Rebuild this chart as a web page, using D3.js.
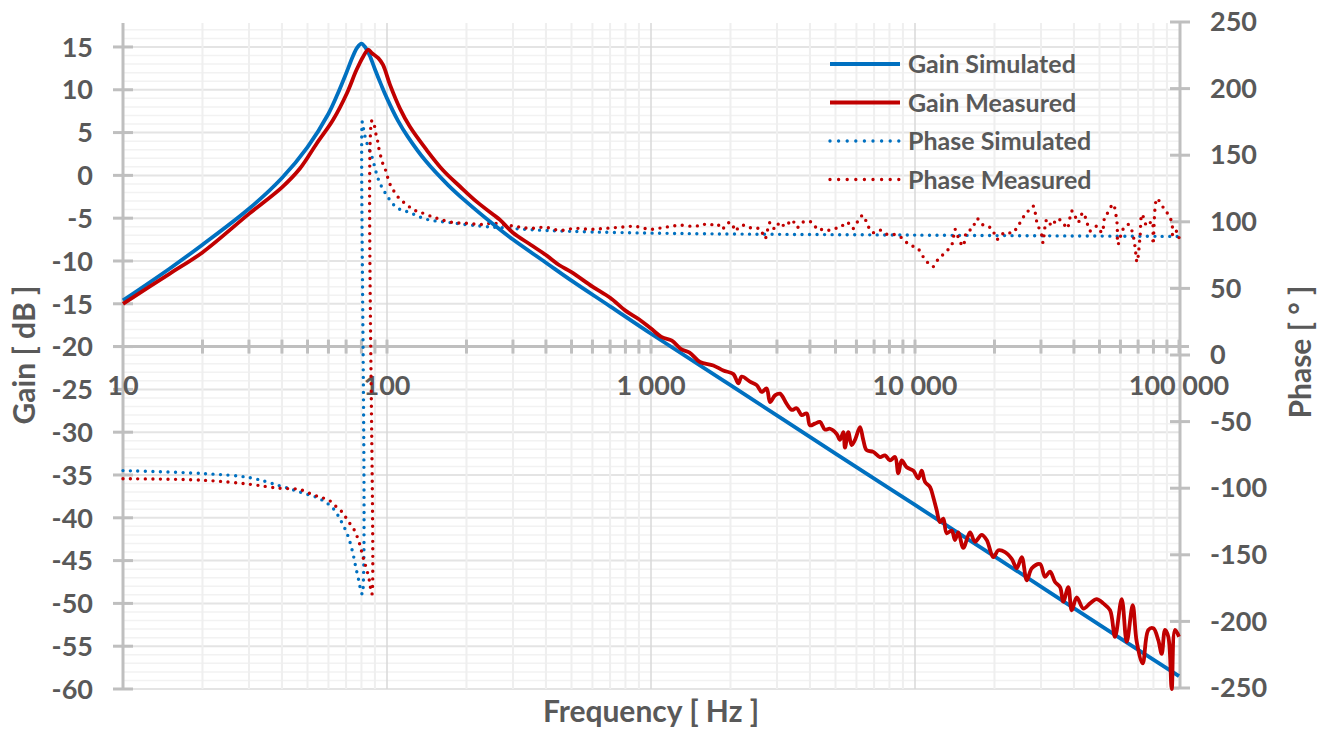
<!DOCTYPE html>
<html>
<head>
<meta charset="utf-8">
<script src="https://cdn.jsdelivr.net/npm/d3@7"></script>
<style>
  body { margin: 0; background: #fff; }
  text { font-family: Lato, "Noto Sans", sans-serif; font-weight: bold; fill: #595959; }
</style>
</head>
<body>
<div id="chart-container"></div>
<script>
// ---- data ----
const simGainFreq = [10, 15, 20, 30, 40, 50, 60, 65, 70, 74, 77, 80, 83, 86, 90, 95, 100, 110, 120, 140, 170, 200, 250, 300, 400, 500, 700, 1000, 2000, 5000, 10000, 20000, 50000, 100000];
const simGain = [-14.6, -10.9, -8.1, -3.9, -0.3, 3.3, 7.2, 9.5, 11.9, 13.8, 14.9, 15.4, 14.9, 14.0, 12.4, 10.6, 9.0, 6.4, 4.5, 1.7, -1.1, -3.1, -5.6, -7.5, -10.2, -12.3, -15.3, -18.5, -24.5, -32.5, -38.5, -44.5, -52.5, -58.5];

const measGainFreq = [10, 15, 20, 30, 40, 46.8, 54.1, 62.5, 70.5, 76.6, 81.3, 85, 87.5, 92.7, 96.6, 102.6, 112, 122, 141, 163, 189, 219, 253, 268, 300, 350, 400, 450, 500, 600, 700, 800, 900, 1000, 1100, 1200, 1300, 1400,
  1533, 1722, 1879, 2050, 2141, 2206, 2371, 2514, 2626, 2742, 2824, 2950, 3081, 3266, 3412, 3564, 3722, 3889, 4000, 4178, 4365, 4561, 4764, 5051, 5198, 5351, 5430, 5588, 5754, 5926, 6191, 6368, 6561, 6950, 7366, 7697, 8040, 8400, 8644, 8903, 9303, 9854,
  10292, 10602, 10912, 11398, 11729, 12078, 12434, 12798, 13182, 13772, 14172, 14587, 15241, 16160, 16878, 17886, 18688, 19804, 20687, 21928, 23248, 24289, 25376, 26512, 27699, 29750, 31080, 32470, 33920, 35440, 36450, 38080, 39230, 40980, 43420, 46020, 48760, 51690, 54790, 57240, 60680, 63390, 66770, 69170, 72870, 76520, 79930, 83480, 86000, 88490, 91100, 93830, 96600, 100000];
const measGain = [-15.0, -11.5, -9.0, -4.5, -1.4, 0.8, 3.7, 6.5, 9.6, 12.3, 13.9, 14.7, 14.3, 13.7, 12.9, 10.6, 7.8, 5.7, 3.0, 0.6, -1.3, -3.1, -4.6, -5.2, -6.7, -8.1, -9.3, -10.5, -11.3, -13.0, -14.3, -15.8, -16.8, -17.9, -18.9, -19.3, -20.3, -20.7,
  -21.8, -22.2, -22.8, -23.2, -24.3, -23.5, -24.1, -24.5, -25.3, -24.9, -26.5, -25.7, -25.5, -26.7, -27.4, -27.2, -28.0, -27.8, -29.2, -29.0, -28.8, -29.7, -29.6, -30.2, -30.9, -30.0, -31.8, -30.0, -31.5, -30.9, -29.4, -30.9, -32.1, -32.3, -32.9, -32.7, -33.3, -32.9, -34.8, -33.3, -34.1, -34.5,
  -35.4, -34.5, -35.8, -36.4, -37.6, -39.1, -40.5, -40.1, -41.8, -41.5, -42.6, -41.7, -43.5, -41.7, -42.8, -42.0, -42.6, -44.6, -43.8, -44.0, -44.8, -45.9, -44.6, -47.3, -45.9, -45.4, -46.9, -46.3, -47.5, -48.1, -49.8, -48.1, -50.8, -49.3, -50.6, -50.0, -49.5, -50.0, -50.8, -53.9, -49.5, -54.5, -50.2, -54.5, -57.0, -53.1, -52.9, -54.3, -55.9, -53.1, -53.9, -60.0, -53.1, -53.9];

const simPhaseFreq = [10, 20, 30, 39, 47, 55.7, 62.4, 67.4, 71.2, 74.1, 76.3, 78.5, 79.7, 80.6, 80.6, 81.3, 82.5, 85, 87.5, 92.7, 98.2, 108.8, 122, 141, 173, 225, 268, 400, 1000, 10000, 100000];
const simPhase = [-86.8, -89, -92, -98, -103, -108, -115, -125.7, -136, -148, -160, -171, -177.6, -179.5, 175, 171, 164.5, 155.8, 149.5, 132, 122, 110.7, 106.9, 101.9, 99.4, 96.8, 95.6, 93.5, 91.5, 90, 89];

const measPhaseFreq = [10, 20, 30, 39, 46.8, 52.6, 56.6, 60.3, 63.5, 66.8, 69.3, 72, 75, 77.2, 79, 80.4, 81.7, 83.2, 85, 86.2, 87, 87.7, 87.7, 89.3, 90.8, 91.9, 93, 96.3, 99.1, 102, 107, 112, 118.7, 125.8, 133, 145.5, 158.8, 178, 200, 225, 253,
  305, 348, 397, 452, 515, 587, 670, 763, 869, 991, 1130, 1288, 1468,
  1574, 1673, 1778, 1858, 1941, 2027, 2080, 2173, 2270, 2371, 2477, 2588, 2703, 2824, 2950, 3081, 3219, 3420, 3573, 3733, 3932, 4108, 4291, 4483, 4683, 4892, 5198, 5523, 5820, 6080, 6352, 6636, 6932, 7366, 7827, 8254, 8770, 9162, 9571,
  10176, 10912, 11702, 12225, 12991, 13804, 14172, 14550, 15200, 15738, 16442, 17176, 17943, 18903, 19748, 20447, 21359, 22313, 23311, 24553, 25650, 26561, 27988, 28980, 30270, 30530, 31623, 33037, 34514, 36360, 37650, 39330, 40370, 41420, 43290, 44820, 46020, 48890, 51070, 52450, 53830, 56230, 58220, 58730, 61360, 64100, 66370, 68080, 69360, 71140, 72440, 75680, 79060, 79720, 82540, 86220, 88490, 90830, 94090, 94860, 98200, 100000];
const measPhase = [-92.9, -94, -97, -100, -101, -105, -107, -109, -113, -116.7, -121, -126, -131, -136.7, -142.7, -148.7, -154, -159, -165.8, -171.8, -177.6, -179.5, 176, 173.3, 165.8, 162, 155.8, 144, 138, 129.5, 122, 117, 113, 109, 107.4, 104.4, 101.9, 99.4, 98.9, 98, 98.9,
  96.6, 95.1, 95.9, 93.6, 95.1, 94.4, 95.1, 95.9, 96.6, 94.4, 95.9, 97.4, 96.6,
  98.1, 97.6, 98.6, 94.4, 98.9, 98.9, 93.1, 96.8, 97.4, 95.6, 94.9, 94.9, 87.4, 99.4, 94.4, 99.8, 96.4, 101.4, 95.6, 99.4, 100.6, 98.9, 93.8, 94.4, 93.6, 94.9, 95.6, 99.8, 94.9, 100.6, 104.9, 96.8, 91.9, 93.8, 90.6, 90.6, 88.9, 85.6, 82.3,
  80.6, 71.8, 66.3, 71.8, 76.8, 83.1, 94.4, 88.9, 81.8, 93.1, 94.4, 102.4, 98.1, 96.8, 93.1, 86.8, 90.6, 92.3, 91.4, 96.8, 103.2, 106.9, 111.9, 99.4, 89.3, 84.4, 101.9, 96.8, 102.4, 99.4, 94.9, 108.1, 104.4, 99.4, 106.9, 99.4, 93.1, 96.8, 91.9, 104.4, 106.9, 113.2, 99.4, 83.1, 94.4, 98.1, 93.1, 81.8, 69.8, 88.1, 105.6, 96.8, 100.6, 83.1, 117.4, 111.9, 109.4, 105.6, 99.4, 89.3, 93.1, 88.1];

const gainTicks = d3.range(-60, 16, 5);
const phaseTicks = d3.range(-250, 251, 50);
const freqLabels = [[10, "10"], [100, "100"], [1000, "1 000"], [10000, "10 000"], [100000, "100 000"]];

const legendItems = [
  { name: "Gain Simulated", color: "#0070C0", dotted: false },
  { name: "Gain Measured", color: "#C00000", dotted: false },
  { name: "Phase Simulated", color: "#0070C0", dotted: true },
  { name: "Phase Measured", color: "#C00000", dotted: true }
];

// ---- chart ----
const svgWidth = 1319;
const svgHeight = 729;
const pLeft = 123, pRight = 1179, pTop = 23, pBottom = 689;

const svg = d3.select("#chart-container")
  .append("svg")
  .attr("width", svgWidth)
  .attr("height", svgHeight);

const x = d3.scaleLog().domain([10, 100000]).range([pLeft, pRight]);
const yGain = d3.scaleLinear().domain([-60, 17.8]).range([pBottom, pTop]);
const yPhase = d3.scaleLinear().domain([-250, 250]).range([688, 22]);

// minor / major frequency positions
const decades = [10, 100, 1000, 10000];
const minorFreq = [];
decades.forEach(d => { for (let k = 2; k <= 9; k++) minorFreq.push(d * k); });

const grid = svg.append("g");

// horizontal grid (1 dB minor, 5 dB major)
grid.selectAll(".hmin")
  .data(d3.range(-59, 18, 1).filter(v => v % 5 !== 0))
  .join("line")
  .attr("x1", pLeft).attr("x2", pRight)
  .attr("y1", d => yGain(d)).attr("y2", d => yGain(d))
  .attr("stroke", "#f2f2f2").attr("stroke-width", 1.5);

grid.selectAll(".hmaj")
  .data(gainTicks)
  .join("line")
  .attr("x1", pLeft).attr("x2", pRight)
  .attr("y1", d => yGain(d)).attr("y2", d => yGain(d))
  .attr("stroke", "#e4e4e4").attr("stroke-width", 2);

// vertical grid
grid.selectAll(".vmin")
  .data(minorFreq)
  .join("line")
  .attr("x1", d => x(d)).attr("x2", d => x(d))
  .attr("y1", pTop).attr("y2", pBottom)
  .attr("stroke", "#efefef").attr("stroke-width", 2);

grid.selectAll(".vmaj")
  .data([100, 1000, 10000])
  .join("line")
  .attr("x1", d => x(d)).attr("x2", d => x(d))
  .attr("y1", pTop).attr("y2", pBottom)
  .attr("stroke", "#d9d9d9").attr("stroke-width", 1.5);

// axes lines (Excel style thick grey)
const axisColor = "#bfbfbf";
const axes = svg.append("g").attr("stroke", axisColor).attr("stroke-width", 3);

axes.append("line").attr("x1", pLeft).attr("x2", pLeft).attr("y1", pTop).attr("y2", pBottom);
axes.selectAll(".lt").data(gainTicks).join("line")
  .attr("x1", pLeft - 10).attr("x2", pLeft + 10)
  .attr("y1", d => yGain(d)).attr("y2", d => yGain(d));

axes.append("line").attr("x1", pRight + 1).attr("x2", pRight + 1).attr("y1", pTop).attr("y2", pBottom);
axes.selectAll(".rt").data(phaseTicks).join("line")
  .attr("x1", pRight - 9).attr("x2", pRight + 11)
  .attr("y1", d => yPhase(d)).attr("y2", d => yPhase(d));

// frequency axis crosses at -20 dB
const y0 = yGain(-20);
axes.append("line").attr("x1", pLeft - 10).attr("x2", pRight + 10).attr("y1", y0).attr("y2", y0);
axes.selectAll(".xt").data(minorFreq.concat(decades.slice(1), [100000])).join("line")
  .attr("x1", d => x(d)).attr("x2", d => x(d))
  .attr("y1", y0 - 7).attr("y2", y0 + 7);

// tick labels
svg.append("g").selectAll("text").data(gainTicks).join("text")
  .attr("x", 93).attr("y", d => yGain(d)).attr("dy", "0.36em")
  .attr("text-anchor", "end").style("font-size", "27px")
  .text(d => d);

svg.append("g").selectAll("text").data(phaseTicks).join("text")
  .attr("x", 1210).attr("y", d => yPhase(d)).attr("dy", "0.34em")
  .style("font-size", "27px")
  .text(d => d);

svg.append("g").selectAll("text").data(freqLabels).join("text")
  .attr("x", d => x(d[0])).attr("y", 395)
  .attr("text-anchor", "middle").style("font-size", "27px")
  .text(d => d[1]);

// axis titles
svg.append("text").attr("transform", "translate(35,355) rotate(-90)")
  .attr("text-anchor", "middle").style("font-size", "30px").text("Gain [ dB ]");
svg.append("text").attr("transform", "translate(1311,352) rotate(-90)")
  .attr("text-anchor", "middle").style("font-size", "30px").text("Phase [ ° ]");
svg.append("text").attr("x", (pLeft + pRight) / 2).attr("y", 722)
  .attr("text-anchor", "middle").style("font-size", "30px").text("Frequency [ Hz ]");

// ---- series ----
const plot = svg.append("g");

const gainLine = d3.line().x(d => x(d[0])).y(d => yGain(d[1])).curve(d3.curveCatmullRom);
const phaseLine = d3.line().x(d => x(d[0])).y(d => yPhase(d[1])).curve(d3.curveCatmullRom);

const zip = (a, b) => a.map((v, i) => [v, b[i]]);

plot.append("path").datum(zip(simPhaseFreq, simPhase))
  .attr("d", phaseLine).attr("fill", "none")
  .attr("stroke", "#0070C0").attr("stroke-width", 3.4)
  .attr("stroke-linecap", "round").attr("stroke-dasharray", "0 7.5");

plot.append("path").datum(zip(measPhaseFreq, measPhase))
  .attr("d", phaseLine).attr("fill", "none")
  .attr("stroke", "#C00000").attr("stroke-width", 3.4)
  .attr("stroke-linecap", "round").attr("stroke-dasharray", "0 7.5");

plot.append("path").datum(zip(simGainFreq, simGain))
  .attr("d", gainLine).attr("fill", "none")
  .attr("stroke", "#0070C0").attr("stroke-width", 3.8);

plot.append("path").datum(zip(measGainFreq, measGain))
  .attr("d", gainLine).attr("fill", "none")
  .attr("stroke", "#C00000").attr("stroke-width", 3.8);

// ---- legend ----
const legend = svg.append("g")
  .selectAll("g").data(legendItems).join("g")
  .attr("transform", (d, i) => `translate(830, ${64 + i * 38.5})`);

legend.append("line")
  .attr("x1", 0).attr("x2", 70).attr("y1", 0).attr("y2", 0)
  .attr("stroke", d => d.color)
  .attr("stroke-width", d => d.dotted ? 3.4 : 3.8)
  .attr("stroke-linecap", d => d.dotted ? "round" : "butt")
  .attr("stroke-dasharray", d => d.dotted ? "0 8.6" : null);

legend.append("text")
  .attr("x", 78).attr("y", 0).attr("dy", "0.36em")
  .style("font-size", "25px")
  .text(d => d.name);
</script>
</body>
</html>
